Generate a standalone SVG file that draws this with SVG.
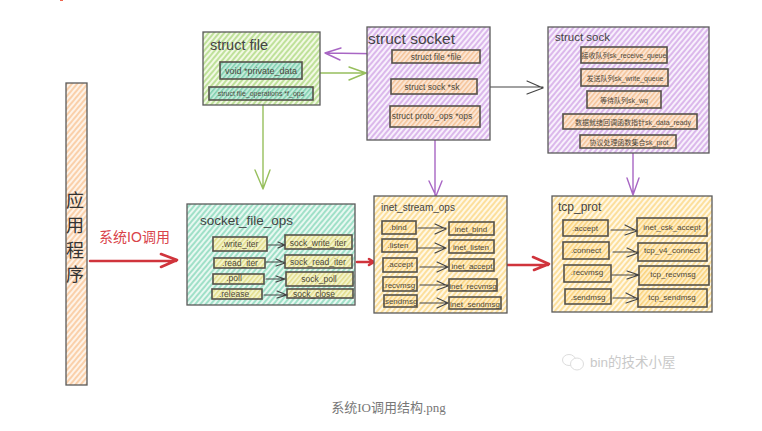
<svg xmlns="http://www.w3.org/2000/svg" width="762" height="431" viewBox="0 0 762 431">
<defs>
<pattern id="hG" width="4" height="4" patternUnits="userSpaceOnUse" patternTransform="rotate(-50)"><rect width="4" height="4" fill="#f2f9e4"/><rect width="4" height="2" fill="#bfe19a"/></pattern>
<pattern id="hP" width="4" height="4" patternUnits="userSpaceOnUse" patternTransform="rotate(-50)"><rect width="4" height="4" fill="#f8f0fc"/><rect width="4" height="2" fill="#dbb8eb"/></pattern>
<pattern id="hT" width="4" height="4" patternUnits="userSpaceOnUse" patternTransform="rotate(-50)"><rect width="4" height="4" fill="#e8f8f1"/><rect width="4" height="2" fill="#a0e0c8"/></pattern>
<pattern id="hY" width="4" height="4" patternUnits="userSpaceOnUse" patternTransform="rotate(-50)"><rect width="4" height="4" fill="#fff8e6"/><rect width="4" height="2" fill="#fcdf9c"/></pattern>
<pattern id="hO" width="4" height="4" patternUnits="userSpaceOnUse" patternTransform="rotate(-50)"><rect width="4" height="4" fill="#fef3e8"/><rect width="4" height="2" fill="#fad0aa"/></pattern>
<pattern id="hTi" width="3.500" height="3.500" patternUnits="userSpaceOnUse" patternTransform="rotate(-50)"><rect width="4" height="4" fill="#c4ebda"/><rect width="4" height="1.500" fill="#80cfb0"/></pattern>
<pattern id="hOi" width="3.500" height="3.500" patternUnits="userSpaceOnUse" patternTransform="rotate(-50)"><rect width="4" height="4" fill="#fbe6d6"/><rect width="4" height="1.500" fill="#f5c398"/></pattern>
<pattern id="hYi" width="3.500" height="3.500" patternUnits="userSpaceOnUse" patternTransform="rotate(-50)"><rect width="4" height="4" fill="#feeec8"/><rect width="4" height="1.500" fill="#fad27c"/></pattern>
<pattern id="hLi" width="3.500" height="3.500" patternUnits="userSpaceOnUse" patternTransform="rotate(-50)"><rect width="4" height="4" fill="#f3f4cc"/><rect width="4" height="1.500" fill="#e3dd8c"/></pattern>
</defs>
<style>
text{font-family:"Liberation Sans","Noto Sans CJK SC",sans-serif;fill:#444}
.b{stroke:#5a5a5a;stroke-width:1.3}
.i{stroke:#55524a;stroke-width:1.6}
.t{font-size:8px;text-anchor:middle;dominant-baseline:central;fill:#4d483c}
.s{font-size:7px}
.h{font-size:14.500px;fill:#444}
.c{fill:none;stroke-linecap:round;stroke-linejoin:round}
.k{stroke:#444;stroke-width:1.200}
.g{stroke:#97bf5d;stroke-width:1.400}
.p{stroke:#a866c4;stroke-width:1.400}
.r{stroke:#d0343c;stroke-width:2.600}
</style>
<rect width="762" height="431" fill="#fff"/>
<rect x="60" y="0" width="3" height="1" fill="#f0654f"/>
<g id="connectors">
<path class="c g" d="M263 105V189M255 170L263 189L270 170"/>
<path class="c g" d="M306 73H365M349 67L366 73L349 80"/>
<path class="c p" d="M392 54L325 53M341 48L325 53L340 60"/>
<path class="c k" d="M477 87H543M527 81L543 88L527 94"/>
<path class="c p" d="M435 127V196M429 181L436 196L442 181"/>
<path class="c p" d="M633 148V195M627 178L633 195L639 178"/>
<path class="c r" d="M90 261H176M161 254L177 260L161 267"/>
<path class="c r" d="M357 262H373M369 259L374 262L369 265"/>
<path class="c r" d="M507 265H548M533 257L549 264L534 270"/>
</g>
<g id="app"><rect class="b" x="66" y="83" width="21" height="302" fill="url(#hO)"/>
<text x="75" y="207" font-size="18" text-anchor="middle" style="fill:#333">应</text><text x="75" y="232" font-size="18" text-anchor="middle" style="fill:#333">用</text><text x="75" y="257" font-size="18" text-anchor="middle" style="fill:#333">程</text><text x="75" y="281" font-size="18" text-anchor="middle" style="fill:#333">序</text></g>
<g id="label-syscall"><text x="134.500" y="242" font-size="14" text-anchor="middle" style="fill:#d9434a">系统IO调用</text></g>
<g id="struct-file"><rect class="b" x="203" y="32" width="117" height="73" fill="url(#hG)"/><text class="h" x="210" y="50">struct file</text>
<rect class="i" x="220" y="62" width="82" height="17" fill="url(#hTi)"/><text class="t" x="261" y="70.500" style="font-size:9px">void *private_data</text>
<rect class="i" x="209" y="87" width="104" height="13" fill="url(#hTi)"/><text class="t" x="261" y="93.500" style="font-size:7px">struct file_operations *f_ops</text></g>
<g id="struct-socket"><rect class="b" x="367" y="27" width="123" height="113" fill="url(#hP)"/><text x="368" y="44" font-size="15.500">struct socket</text>
<rect class="i" x="392" y="50" width="88" height="13" fill="url(#hOi)"/><text class="t" x="436" y="57" style="font-size:8.500px">struct file *file</text>
<rect class="i" x="391" y="79" width="86" height="15" fill="url(#hOi)"/><text class="t" x="432" y="87" style="font-size:8.500px">struct sock *sk</text>
<rect class="i" x="390" y="106" width="90" height="21" fill="url(#hOi)"/><text class="t" x="432" y="116" style="font-size:8.500px">struct proto_ops *ops</text></g>
<g id="struct-sock"><rect class="b" x="548" y="27" width="161" height="126" fill="url(#hP)"/><text class="h" x="555" y="41" style="font-size:11.500px">struct sock</text>
<rect class="i" x="581" y="47" width="86" height="16" fill="url(#hOi)"/><text class="t s" x="624" y="55">接收队列sk_receive_queue</text>
<rect class="i" x="581" y="69" width="87" height="17" fill="url(#hOi)"/><text class="t s" x="625" y="78">发送队列sk_write_queue</text>
<rect class="i" x="587" y="91" width="74" height="17" fill="url(#hOi)"/><text class="t s" x="624" y="100">等待队列sk_wq</text>
<rect class="i" x="563" y="114" width="134" height="15" fill="url(#hOi)"/><text class="t s" x="633" y="122">数据就绪回调函数指针sk_data_ready</text>
<rect class="i" x="580" y="135" width="96" height="13" fill="url(#hOi)"/><text class="t s" x="629" y="142">协议处理函数集合sk_prot</text></g>
<g id="socket-file-ops"><rect class="b" x="187" y="204" width="168" height="101" fill="url(#hT)"/><text class="h" x="200" y="225" style="font-size:13.500px">socket_file_ops</text>
<rect class="i" x="213" y="237" width="54" height="14" fill="url(#hLi)"/><text class="t" x="240" y="244" style="font-size:8.500px">.write_iter</text>
<rect class="i" x="285" y="235" width="67" height="14" fill="url(#hLi)"/><text class="t" x="318" y="243" style="font-size:8.500px">sock_write_iter</text>
<rect class="i" x="214" y="258" width="51" height="10" fill="url(#hLi)"/><text class="t" x="240" y="263" style="font-size:8.500px">.read_iter</text>
<rect class="i" x="285" y="255" width="67" height="13" fill="url(#hLi)"/><text class="t" x="318" y="262" style="font-size:8.500px">sock_read_iter</text>
<rect class="i" x="213" y="274" width="51" height="10" fill="url(#hLi)"/><text class="t" x="234" y="278" style="font-size:8.500px">.poll</text>
<rect class="i" x="286" y="272" width="67" height="14" fill="url(#hLi)"/><text class="t" x="319" y="279" style="font-size:8.500px">sock_poll</text>
<rect class="i" x="212" y="289" width="50" height="10" fill="url(#hLi)"/><text class="t" x="234" y="294" style="font-size:8.500px">.release</text>
<rect class="i" x="287" y="289" width="66" height="9" fill="url(#hLi)"/><text class="t" x="314" y="294" style="font-size:8.500px">sock_close</text>
<path class="c k" d="M268 245H284M278 242L285 245L278 248M266 262H284M276 259L285 263L276 266M266 279H284M276 276L285 279L276 282M264 295H286M277 291L287 295L277 298"/></g>
<g id="inet-stream-ops"><rect class="b" x="374" y="196" width="133" height="117" fill="url(#hY)"/><text class="h" x="381" y="211" style="font-size:10px">inet_stream_ops</text>
<rect class="i" x="382" y="221" width="34" height="13" fill="url(#hYi)"/><text class="t" x="398" y="227.500">.bind</text>
<rect class="i" x="449" y="222" width="45" height="13" fill="url(#hYi)"/><text class="t" x="471" y="229">inet_bind</text>
<rect class="i" x="382" y="239" width="35" height="13" fill="url(#hYi)"/><text class="t" x="398" y="245">.listen</text>
<rect class="i" x="449" y="240" width="45" height="13" fill="url(#hYi)"/><text class="t" x="471" y="247">inet_listen</text>
<rect class="i" x="383" y="258" width="34" height="14" fill="url(#hYi)"/><text class="t" x="400" y="264">.accept</text>
<rect class="i" x="449" y="259" width="45" height="12" fill="url(#hYi)"/><text class="t" x="472" y="266">inet_accept</text>
<rect class="i" x="383" y="277" width="34" height="14" fill="url(#hYi)"/><text class="t" x="399" y="285">.recvmsg</text>
<rect class="i" x="449" y="279" width="48" height="12" fill="url(#hYi)"/><text class="t" x="473" y="286">inet_recvmsg</text>
<rect class="i" x="384" y="295" width="33" height="12" fill="url(#hYi)"/><text class="t" x="400" y="301">.sendmsg</text>
<rect class="i" x="449" y="297" width="52" height="12" fill="url(#hYi)"/><text class="t" x="475" y="304">inet_sendmsg</text>
<path class="c k" d="M418 228H446M435 224L446 229L435 234M418 248H446M435 243L446 248L435 253M420 267H448M437 262L448 267L437 272M420 285H448M437 281L448 286L437 290M420 303H448M437 298L448 303L437 308"/></g>
<g id="tcp-prot"><rect class="b" x="552" y="196" width="160" height="116" fill="url(#hY)"/><text class="h" x="558" y="211" style="font-size:12px">tcp_prot</text>
<rect class="i" x="563" y="220" width="45" height="16" fill="url(#hYi)"/><text class="t" x="585" y="228">.accept</text>
<rect class="i" x="637" y="218" width="70" height="18" fill="url(#hYi)"/><text class="t" x="672" y="227">inet_csk_accept</text>
<rect class="i" x="563" y="242" width="46" height="17" fill="url(#hYi)"/><text class="t" x="586" y="250">.connect</text>
<rect class="i" x="638" y="243" width="69" height="18" fill="url(#hYi)"/><text class="t" x="672" y="250">tcp_v4_connect</text>
<rect class="i" x="564" y="265" width="47" height="17" fill="url(#hYi)"/><text class="t" x="587" y="272">.recvmsg</text>
<rect class="i" x="639" y="266" width="70" height="19" fill="url(#hYi)"/><text class="t" x="673" y="274">tcp_recvmsg</text>
<rect class="i" x="565" y="289" width="46" height="15" fill="url(#hYi)"/><text class="t" x="588" y="297">.sendmsg</text>
<rect class="i" x="638" y="289" width="69" height="18" fill="url(#hYi)"/><text class="t" x="672" y="297">tcp_sendmsg</text>
<path class="c k" d="M611 230H636M625 225L637 231L625 235M613 252H638M627 248L638 253L627 257M612 275H638M627 271L639 275L627 279M613 298H638M626 293L638 299L626 303"/></g>
<g id="watermark"><ellipse cx="569" cy="360" rx="6.500" ry="5.500" fill="#fff" stroke="#ddd" stroke-width="1"/><ellipse cx="577" cy="364" rx="6.500" ry="6" fill="#fff" stroke="#ddd" stroke-width="1"/><text x="590" y="367" font-size="13.500" style="fill:#c9c9c9">bin的技术小屋</text></g>
<g id="caption"><text x="388.500" y="412" font-size="13" text-anchor="middle" style="font-family:'Liberation Serif','Noto Sans CJK SC',serif;fill:#777">系统IO调用结构.png</text></g>
</svg>
